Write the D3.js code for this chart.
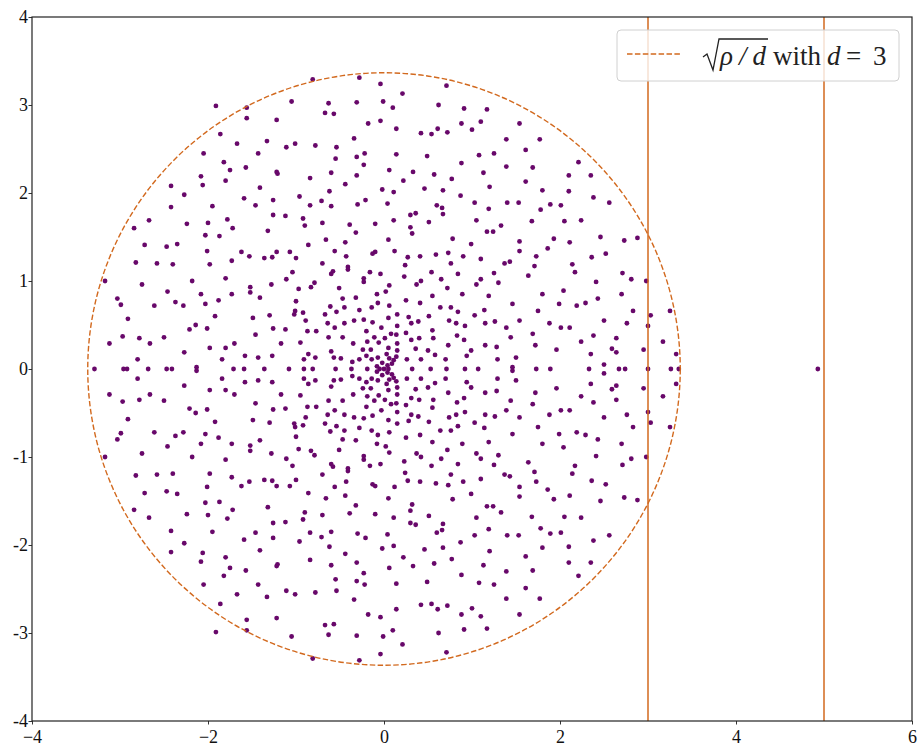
<!DOCTYPE html>
<html>
<head>
<meta charset="utf-8">
<script src="https://cdn.jsdelivr.net/npm/d3@7"></script>
<style>
  body { margin: 0; background: #fff; }
  svg { display: block; }
  text { font-family: "Liberation Serif", "DejaVu Serif", serif; }
</style>
</head>
<body>
<svg></svg>
<script>
// eigenvalues
// real ones sit on the axis, complex ones come in conjugate pairs (upper half listed)
const realEigs = [-3.29, -2.96, -2.92, -2.68, -2.47, -2.41, -1.71, -1.59, -1.36, -1.08, -0.91, -0.81,
  -0.55, -0.37, -0.19, -0.05, 0, 0.05, 0.32, 0.53, 0.71, 0.92, 1.07, 1.73, 1.89, 2.33, 2.67, 2.74,
  3.00, 3.26, 3.35, 4.93]

const complexEigs = [
  // top left
  [-1.91,2.99],[-1.56,2.97],[-1.56,2.85],[-1.22,2.83],[-1.86,2.67],[-1.67,2.56],[-1.33,2.59],[-2.05,2.45],
  [-1.43,2.45],[-1.82,2.35],[-1.75,2.26],[-1.57,2.29],[-1.22,2.24],[-1.21,2.22],[-2.08,2.19],[-2.06,2.09],
  [-1.80,2.14],[-2.42,2.08],[-2.27,1.98],[-1.41,2.06],[-1.59,1.94],[-2.42,1.84],[-1.95,1.85],[-1.46,1.86],
  [-1.26,1.92],[-2.67,1.69],[-2.24,1.65],[-2.00,1.66],[-1.78,1.70],[-1.72,1.60],[-1.26,1.75],[-2.84,1.60],
  [-2.03,1.52],[-1.87,1.51],[-1.32,1.57],[-2.72,1.41],[-2.47,1.39],[-2.35,1.42],[-2.01,1.34],[-1.62,1.33],
  [-1.53,1.28],[-1.36,1.26],[-1.27,1.27],[-1.22,1.33],[-2.82,1.21],[-2.58,1.20],[-2.40,1.19],[-1.98,1.19],
  [-1.73,1.23],
  // top middle
  [-0.81,3.29],[-0.28,3.31],[-0.04,3.24],[0.71,3.22],[0.21,3.13],[-1.05,3.04],[-0.63,3.02],[-0.31,3.03],
  [-0.01,3.04],[-0.67,2.91],[-0.57,2.90],[0.10,2.97],[0.62,3.00],[0.91,2.96],[-0.18,2.79],[-0.04,2.82],
  [0.14,2.73],[0.42,2.68],[0.54,2.67],[0.61,2.73],[0.72,2.69],[0.88,2.79],[1.00,2.72],[1.10,2.81],
  [-0.34,2.62],[-1.11,2.52],[-1.01,2.56],[-0.78,2.54],[-0.54,2.52],[-0.55,2.39],[-0.31,2.41],[-0.22,2.45],
  [-0.23,2.32],[0.14,2.44],[0.49,2.42],[0.88,2.34],[1.08,2.43],[-0.60,2.23],[-0.31,2.20],[0.06,2.26],
  [0.33,2.24],[0.57,2.21],[-0.84,2.17],[-0.44,2.10],[0.22,2.14],[0.77,2.16],[-0.02,2.04],[0.11,2.01],
  [0.46,2.05],[0.67,2.03],[-0.62,2.02],[-0.96,1.96],[-0.71,1.91],[-0.84,1.86],[-0.60,1.85],[-0.30,1.87],
  [-0.21,1.92],[0.04,1.88],[0.60,1.86],[0.66,1.83],[0.87,1.97],[1.03,1.89],[-1.12,1.74],[-0.92,1.71],
  [-0.90,1.63],[-0.70,1.66],[-0.39,1.64],[-0.10,1.65],[0.11,1.69],[0.30,1.75],[0.36,1.77],[0.67,1.76],
  [0.51,1.67],[1.05,1.69],[0.30,1.61],[0.32,1.54],[-0.32,1.55],[-0.66,1.47],[-0.44,1.44],[0.05,1.47],
  [0.78,1.48],[0.99,1.42],[-0.86,1.41],[-1.07,1.33],[-1.00,1.26],[-0.56,1.34],[-0.43,1.28],[-0.13,1.31],
  [-0.10,1.33],[0.12,1.34],[0.27,1.27],[0.41,1.28],[0.59,1.30],[0.73,1.32],[0.90,1.28],[1.10,1.25],
  [-0.70,1.20],[0.24,1.18],[0.76,1.20],[-0.41,1.16],
  // top right
  [1.17,2.95],[1.54,2.79],[1.39,2.61],[1.77,2.61],[1.25,2.45],[1.61,2.49],[2.21,2.35],[1.39,2.30],
  [1.69,2.29],[1.13,2.23],[2.10,2.20],[2.35,2.20],[1.61,2.13],[1.20,2.07],[1.80,2.03],[2.10,2.02],
  [2.38,1.95],[2.56,1.89],[1.40,1.89],[1.53,1.89],[1.89,1.87],[2.01,1.86],[1.19,1.82],[1.78,1.81],
  [1.68,1.68],[2.05,1.68],[2.24,1.69],[1.33,1.63],[1.17,1.56],[1.24,1.56],[2.46,1.50],[2.73,1.46],
  [2.88,1.49],[1.54,1.45],[1.93,1.48],[2.11,1.44],[1.54,1.34],[1.86,1.37],[2.52,1.31],[2.36,1.27],
  [1.73,1.28],[1.37,1.20],[1.43,1.22],[2.14,1.19],[1.71,1.17],
  // middle left
  [-3.17,1.00],[-2.75,0.96],[-2.18,1.00],[-1.80,1.03],[-1.52,0.93],[-1.52,0.87],[-1.28,0.96],[-2.46,0.88],
  [-2.08,0.85],[-1.73,0.85],[-1.41,0.81],[-3.03,0.80],[-2.99,0.73],[-2.61,0.72],[-2.37,0.76],[-2.28,0.72],
  [-2.03,0.74],[-1.88,0.78],[-2.91,0.57],[-1.92,0.60],[-1.49,0.58],[-1.30,0.61],[-2.21,0.45],[-2.14,0.50],
  [-2.01,0.46],[-1.26,0.46],[-1.46,0.39],[-3.12,0.29],[-2.97,0.37],[-2.78,0.35],[-2.66,0.29],[-2.50,0.36],
  [-2.27,0.19],[-1.98,0.24],[-1.80,0.24],[-1.70,0.29],[-1.17,0.29],[-2.80,0.11],[-1.84,0.11],[-1.58,0.15],
  [-1.43,0.13],[-1.27,0.15],[-2.13,0.02],
  // centre
  [-1.04,1.10],[-0.60,1.08],[-0.58,1.11],[-0.41,1.13],[-0.16,1.10],[-0.04,1.08],[0.23,1.05],[0.54,1.10],
  [0.84,1.08],[-1.11,1.02],[-0.23,1.03],[-0.23,0.99],[0.06,0.95],[0.02,0.88],[0.42,1.00],[0.37,0.96],
  [0.65,1.02],[1.10,1.02],[-0.97,0.91],[-0.83,0.93],[-0.79,0.98],[-0.51,0.92],[-0.08,0.85],[0.55,0.83],
  [0.89,0.85],[0.72,0.92],[1.05,0.96],[-1.00,0.77],[-0.47,0.80],[-0.32,0.81],[-0.61,0.71],[-0.45,0.70],
  [-0.28,0.67],[-0.14,0.70],[-0.07,0.75],[0.06,0.72],[0.25,0.78],[0.41,0.75],[0.64,0.70],[0.76,0.70],
  [0.84,0.65],[-1.01,0.66],[-1.02,0.62],[-0.92,0.64],[-0.67,0.62],[-0.54,0.65],[-0.89,0.55],[-0.64,0.52],
  [-0.45,0.52],[-0.34,0.55],[-0.23,0.56],[-0.13,0.53],[0.05,0.58],[0.15,0.62],[0.28,0.59],[0.31,0.52],
  [0.39,0.54],[0.51,0.60],[0.74,0.55],[0.82,0.52],[0.92,0.49],[1.03,0.61],[-1.12,0.45],[-0.87,0.43],
  [-0.77,0.43],[-0.56,0.47],[-0.20,0.43],[-0.03,0.47],[0.08,0.40],[0.15,0.49],[0.25,0.41],[0.31,0.33],
  [0.40,0.35],[0.55,0.44],[0.56,0.35],[0.83,0.38],[0.91,0.33],[-0.95,0.30],[-0.63,0.36],[-0.47,0.36],
  [-0.35,0.29],[-0.19,0.31],[-0.11,0.36],[-0.06,0.30],[0.01,0.35],[0.14,0.39],[0.15,0.29],[0.36,0.23],
  [0.50,0.21],[0.73,0.27],[0.99,0.21],[-0.60,0.20],[-0.24,0.22],[-0.15,0.22],[0.05,0.24],[0.15,0.21],
  [-0.20,0.15],[-0.14,0.11],[-0.07,0.13],[0.03,0.17],[0.06,0.12],[0.14,0.14],[-0.91,0.11],[-0.78,0.13],
  [-0.86,0.17],[-0.57,0.13],[-0.49,0.12],[-0.36,0.08],[-0.28,0.11],[0.26,0.11],[0.42,0.11],[0.58,0.16],
  [0.70,0.11],[0.94,0.15],[-0.08,0.03],[0.04,0.04],[0.09,0.06],[-0.02,0.07],[0.11,0.10],
  // middle right
  [1.25,1.09],[1.64,1.06],[2.17,1.10],[2.71,1.09],[1.30,0.98],[2.41,0.99],[2.81,1.02],[2.98,1.00],
  [2.04,0.89],[1.80,0.85],[1.19,0.83],[1.46,0.74],[1.99,0.74],[2.19,0.72],[2.29,0.75],[2.43,0.80],
  [2.70,0.85],[1.14,0.67],[1.75,0.66],[2.83,0.66],[3.03,0.61],[3.25,0.66],[1.54,0.55],[1.26,0.54],
  [1.15,0.52],[1.88,0.52],[2.01,0.47],[2.11,0.47],[2.50,0.55],[2.76,0.52],[3.00,0.49],[1.39,0.47],
  [1.44,0.36],[1.69,0.40],[2.38,0.38],[2.64,0.35],[3.17,0.31],[1.15,0.27],[1.28,0.25],[1.72,0.27],
  [1.96,0.22],[2.24,0.31],[2.59,0.23],[2.64,0.19],[2.95,0.22],[3.32,0.17],[1.50,0.13],[2.35,0.17],
  [2.50,0.05],[1.29,0.11],[1.46,0.02]
]

const rho = 34
const d = 3
const vLines = [3, 5]
const xTicks = [-4, -2, 0, 2, 4, 6]
const xTickLabels = ['\u22124', '\u22122', '0', '2', '4', '6']
const yTicks = [-4, -3, -2, -1, 0, 1, 2, 3, 4]
const yTickLabels = ['-4', '-3', '-2', '-1', '0', '1', '2', '3', '4']

const width = 918
const height = 747
const margin = {top: 17, right: 6, bottom: 26, left: 32}
const orange = '#d2691e'

const svg = d3.select('svg')
  .attr('width', width)
  .attr('height', height)

const x = d3.scaleLinear().domain([-4, 6]).range([margin.left, width - margin.right])
const y = d3.scaleLinear().domain([-4, 4]).range([height - margin.bottom, margin.top])

const points = realEigs.map(v => [v, 0])
complexEigs.forEach(p => {
  points.push([p[0], p[1]])
  points.push([p[0], -p[1]])
})

svg.append('defs').append('clipPath').attr('id', 'plot')
  .append('rect')
  .attr('x', margin.left).attr('y', margin.top)
  .attr('width', x(6) - x(-4)).attr('height', y(-4) - y(4))

const plot = svg.append('g').attr('clip-path', 'url(#plot)')

plot.selectAll('circle.eig')
  .data(points)
  .enter()
    .append('circle')
    .attr('class', 'eig')
    .attr('cx', p => x(p[0]))
    .attr('cy', p => y(p[1]))
    .attr('r', 2.4)
    .attr('fill', '#68086a')

// circle of radius sqrt(rho/d)
const radius = Math.sqrt(rho / d)
plot.append('ellipse')
  .attr('cx', x(0))
  .attr('cy', y(0))
  .attr('rx', x(radius) - x(0))
  .attr('ry', y(0) - y(radius))
  .attr('fill', 'none')
  .attr('stroke', orange)
  .attr('stroke-width', 1.4)
  .attr('stroke-dasharray', '5.5,2.4')

plot.selectAll('line.vline')
  .data(vLines)
  .enter()
    .append('line')
    .attr('class', 'vline')
    .attr('x1', v => x(v)).attr('x2', v => x(v))
    .attr('y1', y(4)).attr('y2', y(-4))
    .attr('stroke', orange)
    .attr('stroke-width', 1.5)

// axes
const xAxis = svg.append('g')
  .attr('transform', `translate(0,${y(-4)})`)
  .call(d3.axisBottom(x).tickValues(xTicks).tickSize(3.5).tickFormat((v, i) => xTickLabels[i]))
const yAxis = svg.append('g')
  .attr('transform', `translate(${x(-4)},0)`)
  .call(d3.axisLeft(y).tickValues(yTicks).tickSize(3.5).tickFormat((v, i) => yTickLabels[i]))

;[xAxis, yAxis].forEach(a => {
  a.select('.domain').remove()
  a.selectAll('.tick line').attr('stroke', '#000').attr('stroke-width', 0.8)
  a.selectAll('.tick text')
    .attr('fill', '#111')
    .style('font-size', '18px')
    .style('font-family', '"Liberation Serif", serif')
})
xAxis.selectAll('.tick text').attr('dy', '0.9em').attr('y', 6)
yAxis.selectAll('.tick text').attr('x', -4).attr('dy', '0.3em')

// frame
svg.append('rect')
  .attr('x', x(-4)).attr('y', y(4))
  .attr('width', x(6) - x(-4)).attr('height', y(-4) - y(4))
  .attr('fill', 'none')
  .attr('stroke', '#222')
  .attr('stroke-width', 1.2)

// legend
const legend = svg.append('g')
legend.append('rect')
  .attr('x', 617).attr('y', 30)
  .attr('width', 282).attr('height', 51)
  .attr('rx', 4)
  .attr('fill', '#fff').attr('fill-opacity', 0.8)
  .attr('stroke', '#d0d0d0').attr('stroke-width', 1)
legend.append('line')
  .attr('x1', 627).attr('x2', 681)
  .attr('y1', 54).attr('y2', 54)
  .attr('stroke', orange)
  .attr('stroke-width', 1.5)
  .attr('stroke-dasharray', '5.5,2.4')
legend.append('path')
  .attr('d', 'M703,57 L707,54 L713,70 L719,39 L768,39')
  .attr('fill', 'none')
  .attr('stroke', '#222')
  .attr('stroke-width', 1.3)

const legendParts = [
  {text: '\u03c1/d', x: 720, len: 46, italic: true},
  {text: 'with', x: 773, len: 48, italic: false},
  {text: 'd', x: 827, len: 0, italic: true},
  {text: '=', x: 846, len: 0, italic: false},
  {text: '3', x: 873, len: 0, italic: false}
]
legend.selectAll('text')
  .data(legendParts)
  .enter()
    .append('text')
    .attr('x', p => p.x)
    .attr('y', 65)
    .attr('fill', '#222')
    .attr('textLength', p => p.len || null)
    .attr('lengthAdjust', 'spacing')
    .style('font-size', '27px')
    .style('font-style', p => p.italic ? 'italic' : 'normal')
    .text(p => p.text)
</script>
</body>
</html>
